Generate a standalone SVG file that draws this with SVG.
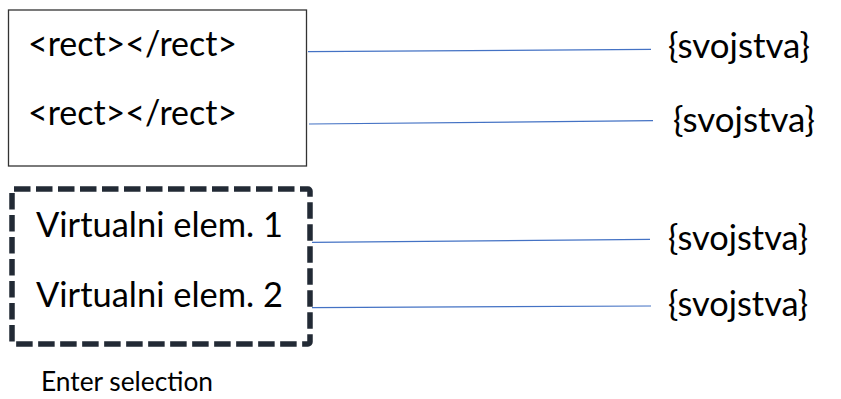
<svg xmlns="http://www.w3.org/2000/svg" width="841" height="399" viewBox="0 0 841 399">
<style>
  .t { font-family: Lato, "Open Sans", "Liberation Sans", sans-serif; font-size: 34px; fill: #000; }
  .s { font-family: Lato, "Open Sans", "Liberation Sans", sans-serif; font-size: 26px; fill: #000; }
  .conn { stroke: #4472c4; stroke-width: 1.2; fill: none; }
</style>
<rect width="841" height="399" fill="#fff"/>
<g id="dom-group">
  <rect x="8.5" y="10" width="298" height="156" fill="#fff" stroke="#333" stroke-width="1.3"/>
  <text class="t" x="28" y="56" textLength="209" lengthAdjust="spacingAndGlyphs">&lt;rect&gt;&lt;/rect&gt;</text>
  <text class="t" x="28" y="125" textLength="209" lengthAdjust="spacingAndGlyphs">&lt;rect&gt;&lt;/rect&gt;</text>
</g>
<g id="virtual-group">
  <rect x="12" y="189" width="298" height="155" rx="2" fill="none" stroke="#222a35" stroke-width="5.5" stroke-dasharray="16.5 5.5"/>
  <text class="t" x="36" y="237" textLength="247" lengthAdjust="spacingAndGlyphs">Virtualni elem. 1</text>
  <text class="t" x="36" y="307" textLength="247" lengthAdjust="spacingAndGlyphs">Virtualni elem. 2</text>
</g>
<g id="enter-label">
  <text class="s" x="41" y="391" textLength="172" lengthAdjust="spacingAndGlyphs">Enter selection</text>
</g>
<g id="prop1"><text class="t" x="668" y="58" textLength="142" lengthAdjust="spacingAndGlyphs">{svojstva}</text></g>
<g id="prop2"><text class="t" x="673" y="132" textLength="142" lengthAdjust="spacingAndGlyphs">{svojstva}</text></g>
<g id="prop3"><text class="t" x="668" y="250" textLength="140" lengthAdjust="spacingAndGlyphs">{svojstva}</text></g>
<g id="prop4"><text class="t" x="668" y="316" textLength="140" lengthAdjust="spacingAndGlyphs">{svojstva}</text></g>
<g id="connectors">
  <line class="conn" x1="308" y1="51.7" x2="651" y2="49.3"/>
  <line class="conn" x1="309" y1="124" x2="653" y2="120.7"/>
  <line class="conn" x1="312" y1="242.3" x2="650" y2="239.3"/>
  <line class="conn" x1="312" y1="307.7" x2="651" y2="306"/>
</g>
</svg>
